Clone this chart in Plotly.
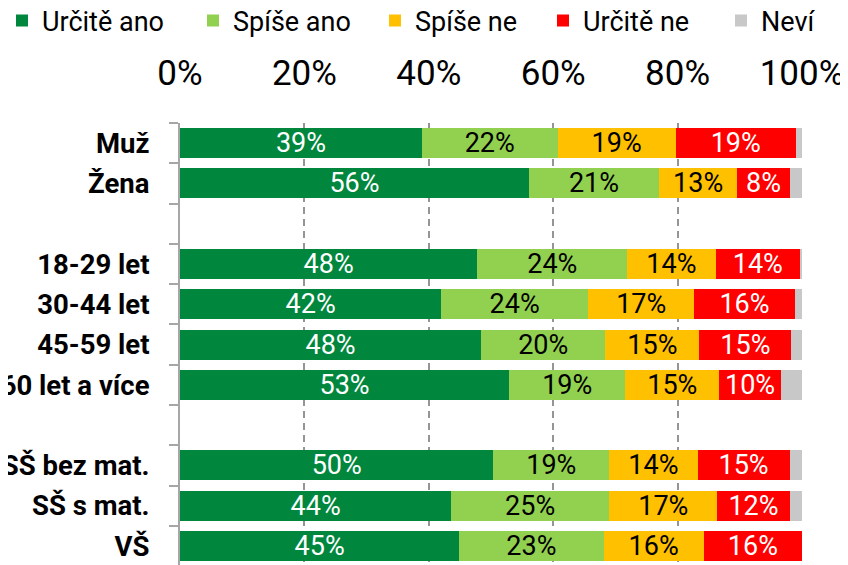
import plotly.graph_objects as go

categories = ["Muž", "Žena", " ", "18-29 let", "30-44 let", "45-59 let", "60 let a více", "  ",
              "SŠ bez mat.", "SŠ s mat.", "VŠ"]
series_names = ["Určitě ano", "Spíše ano", "Spíše ne", "Určitě ne", "Neví"]
urcite_ano = [38.9, 56.1, None, 47.8, 42.0, 48.4, 52.9, None, 50.4, 43.6, 44.9]
spise_ano = [21.8, 20.9, None, 24.1, 23.6, 20.0, 18.7, None, 18.6, 25.4, 23.2]
spise_ne = [19.0, 12.6, None, 14.2, 17.1, 15.1, 15.1, None, 14.2, 17.4, 16.1]
urcite_ne = [19.3, 8.4, None, 13.6, 16.1, 14.8, 9.9, None, 14.8, 11.6, 15.8]
nevi = [1.0, 2.0, None, 0.3, 1.2, 1.7, 3.4, None, 2.0, 2.0, 0.0]
x_ticks = [0, 20, 40, 60, 80, 100]

colors = ["#00873D", "#92D050", "#FFC000", "#FF0000", "#C8C8C8"]
text_colors = ["white", "black", "black", "white", None]
all_values = [urcite_ano, spise_ano, spise_ne, urcite_ne, nevi]

# layout geometry (page has an 8px body margin)
W, H = 840, 557
ML, MR, MT, MB = 172, 46, 115, 0
plot_w = W - ML - MR
plot_h = H - MT - MB
legend_left_px = [-6, 185, 367, 535, 713]   # left edges of the legend entries, figure px
legend_mid_px = 13                          # vertical centre of legend row, figure px

FONT = "Roboto"
fig = go.Figure()
legend_layouts = {}
for i, (name, vals, col, tcol) in enumerate(zip(series_names, all_values, colors, text_colors)):
    lname = "legend" if i == 0 else f"legend{i + 1}"
    if tcol:
        kw = dict(texttemplate="%{x:.0f}%", textposition="inside", insidetextanchor="middle",
                  constraintext="none",
                  insidetextfont=dict(family=FONT, size=27, color=tcol))
    else:
        kw = dict(texttemplate="", textposition="none")
    fig.add_trace(go.Bar(y=categories, x=vals, name=name, orientation="h", legend=lname,
                         marker=dict(color=col, line=dict(width=0)), **kw))
    legend_layouts[lname] = dict(
        orientation="h", xref="paper", yref="paper",
        x=(legend_left_px[i] - ML) / plot_w, xanchor="left",
        y=1 + (MT - legend_mid_px) / plot_h, yanchor="middle",
        font=dict(family=FONT, size=27, color="black"),
        itemclick=False, itemdoubleclick=False, bgcolor="rgba(0,0,0,0)", borderwidth=0)

fig.update_layout(
    barmode="stack",
    bargap=0.255,
    width=W, height=H,
    margin=dict(l=ML, r=MR, t=MT, b=MB, autoexpand=False),
    plot_bgcolor="white", paper_bgcolor="white",
    font=dict(family=FONT, color="black"),
    showlegend=True,
    **legend_layouts,
)
fig.update_xaxes(side="top", range=[0, 100], tickvals=x_ticks, ticktext=[f"{v}%" for v in x_ticks],
                 tickfont=dict(family=FONT, size=35, color="black"),
                 showgrid=True, gridcolor="#959595", gridwidth=2, griddash="7px,5px",
                 zeroline=False, showline=False, ticks="", ticklabelstandoff=30, layer="below traces")
fig.update_yaxes(categoryorder="array", categoryarray=categories, range=[10.47, -0.5],
                 tickfont=dict(family=FONT, size=27.5, color="black", weight="bold"),
                 showline=True, linecolor="#A6A6A6", linewidth=2,
                 ticks="outside", tickson="boundaries", ticklen=9, tickcolor="#A6A6A6", tickwidth=2,
                 showgrid=False, ticklabelstandoff=23)

fig.write_html("out.html")
